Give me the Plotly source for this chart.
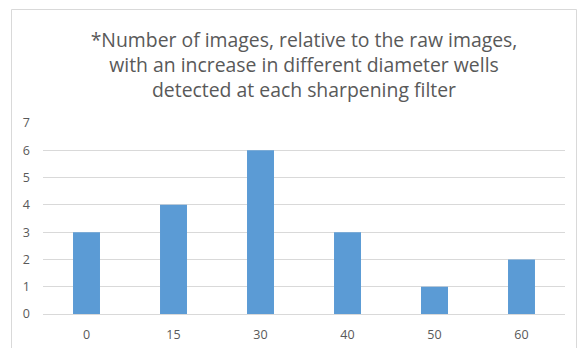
import plotly.graph_objects as go

# Sharpening filter levels and count of images with more wells detected
filters = ["0", "15", "30", "40", "50", "60"]
image_counts = [3, 4, 6, 3, 1, 2]
y_ticks = [0, 1, 2, 3, 4, 5, 6, 7]

title_text = ("*Number of images, relative to the raw images,<br>"
              "with an increase in different diameter wells<br>"
              "detected at each sharpening filter")

fig = go.Figure(
    go.Bar(
        x=filters,
        y=image_counts,
        marker=dict(color="#5B9BD5", line=dict(width=0)),
        width=0.31,
    )
)

W, H = 581, 348
left, right, top, bottom = 43, 16, 123, 34
plot_w = W - left - right
plot_h = H - top - bottom

def px_to_paper_x(px):
    return (px - left) / plot_w

def px_to_paper_y(py):
    return (H - bottom - py) / plot_h

fig.update_layout(
    width=W,
    height=H,
    margin=dict(l=left, r=right, t=top, b=bottom, pad=0, autoexpand=False),
    paper_bgcolor="white",
    plot_bgcolor="white",
    showlegend=False,
    font=dict(family="Open Sans, Liberation Sans, sans-serif", color="#595959"),
    title=dict(
        text=title_text,
        x=0.5,
        xanchor="center",
        xref="paper",
        y=1 - 47 / H,
        yanchor="top",
        font=dict(size=19.4, color="#595959"),
    ),
    xaxis=dict(
        type="category",
        automargin=False,
        showgrid=False,
        showline=False,
        ticks="",
        tickfont=dict(size=12.5, color="#595959"),
        ticklabelstandoff=11,
    ),
    yaxis=dict(
        range=[0, 7],
        automargin=False,
        tickvals=y_ticks,
        showgrid=True,
        gridcolor="#D9D9D9",
        gridwidth=1,
        zeroline=True,
        zerolinecolor="#D9D9D9",
        zerolinewidth=1,
        showline=False,
        ticks="",
        tickfont=dict(size=12.5, color="#595959"),
        ticklabelstandoff=12,
    ),
    shapes=[
        dict(
            type="rect",
            xref="paper",
            yref="paper",
            x0=px_to_paper_x(11.5),
            x1=px_to_paper_x(576.5),
            y0=px_to_paper_y(360),
            y1=px_to_paper_y(9.5),
            line=dict(color="#D9D9D9", width=1),
            fillcolor="rgba(0,0,0,0)",
            layer="below",
        )
    ],
)

fig.write_html("out.html")
